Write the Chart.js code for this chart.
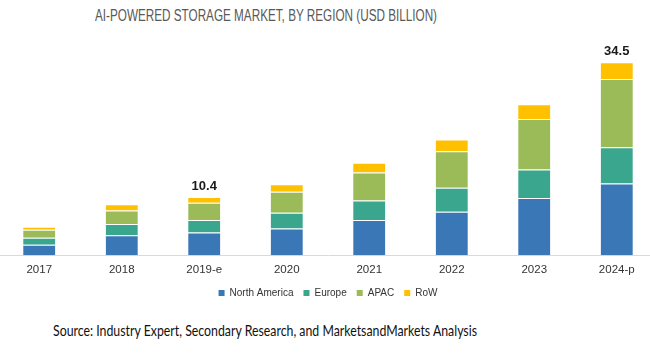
<!DOCTYPE html>
<html>
<head>
<meta charset="utf-8">
<script src="https://cdn.jsdelivr.net/npm/chart.js@4"></script>
<style>
    html, body {
        margin: 0;
        width: 650px;
        height: 359px;
        overflow: hidden;
        background: #ffffff;
        position: relative;
    }
    .title, .source {
        position: absolute;
        left: 0;
        line-height: 1;
        white-space: nowrap;
        transform-origin: 0 0;
    }
    .title {
        top: 8px;
        font-family: 'Liberation Sans', Arial, sans-serif;
        font-size: 16px;
        color: #595959;
    }
    .source {
        top: 322px;
        font-family: Lato, 'Open Sans', sans-serif;
        font-size: 16px;
        color: #111111;
    }
    .chart-box {
        position: absolute;
        left: -2px;
        top: 0;
        width: 660px;
        height: 308px;
    }
</style>
</head>
<body>
<div class="title" data-center="266" data-width="342">AI-POWERED STORAGE MARKET, BY REGION (USD BILLION)</div>
<div class="chart-box"><canvas id="chart"></canvas></div>
<div class="source" data-center="265" data-width="424">Source: Industry Expert, Secondary Research, and MarketsandMarkets Analysis</div>

<script>
const years = ['2017', '2018', '2019-e', '2020', '2021', '2022', '2023', '2024-p'];

const northAmerica = [1.87, 3.58, 4.05, 4.78, 6.31, 7.76, 10.24, 12.8];
const europe = [1.27, 2.0, 2.25, 2.8, 3.45, 4.29, 5.09, 6.5];
const apac = [1.4, 2.42, 3.06, 3.75, 5.02, 6.55, 9.04, 12.2];
const row = [0.55, 1.09, 1.04, 1.35, 1.76, 2.07, 2.6, 3.0];

const totalLabels = [null, null, '10.4', null, null, null, null, '34.5'];

// squeeze the heading and footer text into the width they take in the original
document.querySelectorAll('[data-center]').forEach((el) => {
    const natural = el.getBoundingClientRect().width;
    const target = Number(el.dataset.width);
    const scale = target / natural;
    el.style.left = `${Number(el.dataset.center) - target / 2}px`;
    el.style.transform = `scaleX(${scale})`;
});

const totalLabelPlugin = {
    id: 'totalLabels',
    afterDatasetsDraw(chart) {
        const { ctx } = chart;
        const topMeta = chart.getDatasetMeta(chart.data.datasets.length - 1);

        ctx.save();
        ctx.font = 'bold 13px "Liberation Sans", Arial, sans-serif';
        ctx.fillStyle = '#1a1a1a';
        ctx.textAlign = 'center';
        ctx.textBaseline = 'bottom';

        totalLabels.forEach((label, index) => {
            if (!label) {
                return;
            }
            const bar = topMeta.data[index];
            ctx.fillText(label, bar.x, bar.y - 4);
        });

        ctx.restore();
    },
};

function barSet(label, data, color) {
    return {
        label,
        data,
        backgroundColor: color,
        borderColor: 'rgba(255, 255, 255, 0.4)',
        borderWidth: { top: 1, left: 0, right: 0, bottom: 0 },
        stack: 'total',
    };
}

new Chart(document.getElementById('chart').getContext('2d'), {
    type: 'bar',
    data: {
        labels: years,
        datasets: [
            barSet('North America', northAmerica, '#3a77b7'),
            barSet('Europe', europe, '#3ba68e'),
            barSet('APAC', apac, '#9bbb59'),
            barSet('RoW', row, '#ffc000'),
        ],
    },
    options: {
        responsive: true,
        maintainAspectRatio: false,
        animation: false,
        layout: {
            padding: {
                top: 41,
                left: 0,
                right: 0,
                bottom: 0,
            },
        },
        datasets: {
            bar: {
                categoryPercentage: 1,
                barPercentage: 0.39,
            },
        },
        plugins: {
            legend: {
                position: 'bottom',
                labels: {
                    boxWidth: 6,
                    boxHeight: 6,
                    padding: 10,
                    color: '#333333',
                    font: {
                        family: '"Liberation Sans", Arial, sans-serif',
                        size: 10,
                    },
                    generateLabels: (chart) => Chart.defaults.plugins.legend.labels.generateLabels(chart)
                        .map((item) => ({ ...item, fillStyle: chart.data.datasets[item.datasetIndex].backgroundColor, lineWidth: 0 })),
                },
            },
            tooltip: {
                enabled: false,
            },
        },
        scales: {
            x: {
                stacked: true,
                grid: {
                    display: true,
                    drawOnChartArea: false,
                    drawTicks: false,
                },
                border: {
                    color: '#d9d9d9',
                    width: 1,
                },
                ticks: {
                    color: '#333333',
                    padding: 8,
                    font: {
                        family: '"Liberation Sans", Arial, sans-serif',
                        size: 11.5,
                    },
                },
                // pull the legend up closer to the year labels
                afterFit: (scale) => {
                    scale.height -= 7;
                },
            },
            y: {
                stacked: true,
                display: false,
                beginAtZero: true,
                max: 38.3,
            },
        },
    },
    plugins: [totalLabelPlugin],
});
</script>
</body>
</html>
